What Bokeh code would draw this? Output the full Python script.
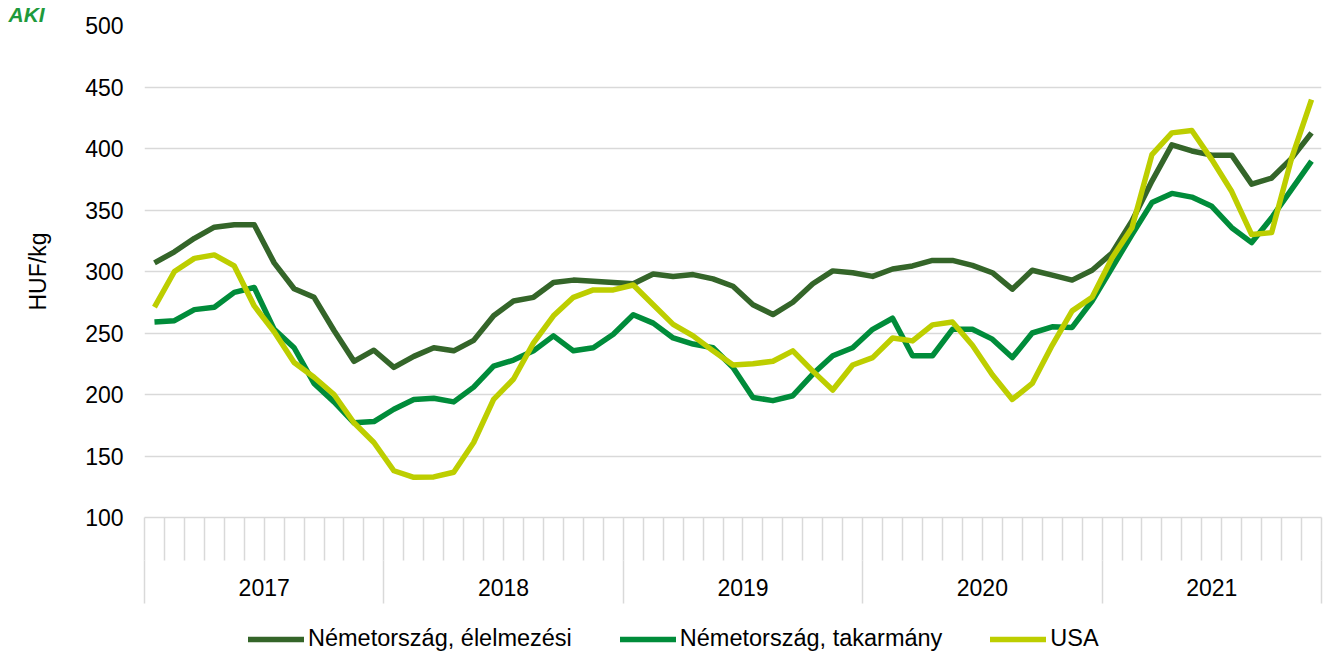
import numpy as np
from bokeh.plotting import figure
from bokeh.layouts import column
from bokeh.models import LinearAxis, FixedTicker, Range1d, Title, Legend, LegendItem
from bokeh.embed import file_html
from bokeh.resources import INLINE

# ---------------- data ----------------
years = ["2017", "2018", "2019", "2020", "2021"]
months_per_year = [12, 12, 12, 12, 11]

series_names = ["Németország, élelmezési", "Németország, takarmány", "USA"]

de_food = [307, 316, 327, 336, 338, 338, 307, 286, 279, 252, 227, 236,
           222, 231, 238, 235.5, 244, 264, 276, 279, 291, 293, 292, 291,
           290, 298, 296, 297.5, 294, 288, 273, 265, 275, 290, 300.5, 299,
           296, 302, 304.5, 309, 309, 305, 299, 285.6, 301, 297, 293, 301,
           315, 341, 373.5, 403, 398, 394.6, 394.6, 371, 376, 392, 412.7]

de_feed = [259, 260, 269, 271, 283, 287, 253, 238, 209, 194, 177, 178,
           188, 196, 197, 194, 206, 223, 228, 235.5, 247.7, 235.5, 238, 249,
           264.8, 258, 246, 241, 238, 222, 197.6, 195, 199, 216.6, 231.5, 238,
           253, 262, 231.5, 231.5, 253, 253, 245, 230, 250, 255, 254.5, 276,
           303, 330, 356, 363.5, 360.5, 353, 335.6, 323.5, 343.7, 366.7, 389.8]

usa = [271, 300, 310.7, 313.5, 304.5, 272, 251, 226, 214, 200, 177, 161,
       138, 132.7, 133, 136.8, 161, 196, 212.6, 242, 264, 279, 285, 285,
       289, 273, 257, 247.7, 235.5, 224, 225, 227, 235.5, 219, 203.6, 224,
       230, 246, 243.6, 256.6, 259, 240, 216, 196, 209, 240, 268, 279,
       311, 335.6, 395, 412.7, 414.6, 391, 365, 330, 331.6, 392, 439.8]

y_ticks = [100, 150, 200, 250, 300, 350, 400, 450, 500]

colors = ["#346529", "#008C3A", "#BDCE00"]
FONT = "Liberation Sans"
GRID = "#D9D9D9"
LW = 5.5

n = len(de_food)
x = np.arange(n) + 0.5
bounds = np.concatenate([[0], np.cumsum(months_per_year)])
centers = [(bounds[i] + bounds[i + 1]) / 2 for i in range(len(years))]
all_series = [de_food, de_feed, usa]

p = figure(width=1327, height=617, x_range=Range1d(0, n), y_range=Range1d(100, 500),
           x_axis_location=None, output_backend="svg", toolbar_location=None,
           min_border_left=144, min_border_right=6, min_border_top=24, min_border_bottom=100)
p.outline_line_color = None
p.background_fill_color = "white"
p.border_fill_color = "white"

# logo-like title at the top left
logo = Title(text="AKI", text_font=FONT, text_font_size="21px",
             text_font_style="bold italic", text_color="#1E9A3C",
             align="left", offset=-136, standoff=0)
p.add_layout(logo, "above")

# y axis
ya = p.yaxis[0]
ya.ticker = FixedTicker(ticks=y_ticks)
ya.major_tick_out = 0
ya.major_tick_in = 0
ya.minor_tick_out = 0
ya.minor_tick_in = 0
ya.axis_line_color = None
ya.major_label_text_font = FONT
ya.major_label_text_font_size = "23px"
ya.major_label_text_color = "#000000"
ya.major_label_standoff = 21
ya.axis_label = "HUF/kg"
ya.axis_label_text_font = FONT
ya.axis_label_text_font_size = "23px"
ya.axis_label_text_font_style = "normal"
ya.axis_label_text_color = "#000000"
ya.axis_label_standoff = 31

p.ygrid.ticker = FixedTicker(ticks=y_ticks)
p.ygrid.grid_line_color = GRID
p.ygrid.grid_line_width = 1.5
p.xgrid.visible = False

# x axis A: month boundary ticks
axA = LinearAxis(ticker=FixedTicker(ticks=list(range(0, n + 1)), minor_ticks=[]))
axA.major_tick_out = 43
axA.major_tick_in = 0
axA.major_tick_line_color = GRID
axA.major_tick_line_width = 1.5
axA.axis_line_color = GRID
axA.axis_line_width = 1.5
axA.major_label_text_font_size = "0px"
axA.major_label_standoff = 0
axA.major_label_overrides = {i: "" for i in range(0, n + 1)}
p.add_layout(axA, "below")

# x axis B: year labels + year separators
axB = LinearAxis(ticker=FixedTicker(ticks=centers, minor_ticks=[float(b) for b in bounds]))
axB.major_label_overrides = {c: y for c, y in zip(centers, years)}
axB.major_tick_out = 0
axB.major_tick_in = 0
axB.minor_tick_out = 43
axB.minor_tick_in = 0
axB.minor_tick_line_color = GRID
axB.minor_tick_line_width = 1.5
axB.axis_line_color = None
axB.major_label_text_font = FONT
axB.major_label_text_font_size = "23px"
axB.major_label_text_color = "#000000"
axB.major_label_standoff = -25
p.add_layout(axB, "below")

for vals, col in zip(all_series, colors):
    p.line(x, vals, line_color=col, line_width=LW, line_join="round")

# legend strip below the chart (same series, drawn outside this strip's range)
p2 = figure(width=1327, height=38, x_range=Range1d(0, n), y_range=Range1d(0, 1),
            output_backend="svg", toolbar_location=None,
            min_border_left=0, min_border_right=0, min_border_top=0, min_border_bottom=0)
p2.axis.visible = False
p2.grid.visible = False
p2.outline_line_color = None
items = []
for vals, name, col in zip(all_series, series_names, colors):
    r = p2.line(x, vals, line_color=col, line_width=LW, line_cap="round")
    items.append(LegendItem(label=name, renderers=[r]))
lg = Legend(items=items, orientation="horizontal", location=(104, 3),
            border_line_color=None, background_fill_alpha=0, padding=0, margin=0,
            spacing=48, glyph_width=56, glyph_height=20, label_standoff=4,
            label_text_font=FONT, label_text_font_size="23.5px", label_text_color="#000000")
p2.add_layout(lg, "center")

layout = column(p, p2, spacing=0)
open("out.html", "w").write(file_html(layout, INLINE))
